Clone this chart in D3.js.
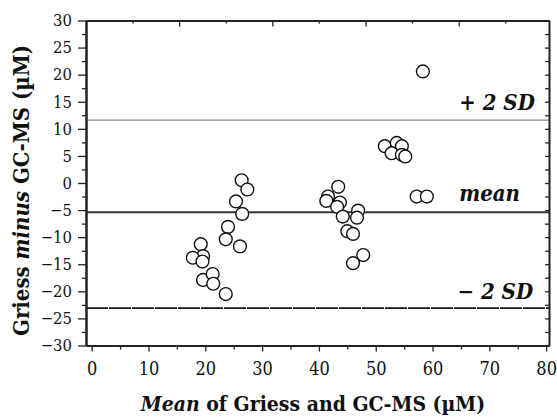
<!DOCTYPE html>
<html>
<head>
<meta charset="utf-8">
<script src="https://cdn.jsdelivr.net/npm/d3@7"></script>
<style>
  html, body { margin: 0; padding: 0; background: #fff; }
  svg { display: block; }
</style>
</head>
<body>
<svg id="chart" width="557" height="417"></svg>
<script>
// ---- data ----
const meanValues = [26.4, 27.4, 25.4, 26.5, 24.0, 23.6, 26.1, 19.2, 19.6, 17.8, 19.5, 19.6, 21.3, 21.4, 23.6,
                    43.4, 41.6, 41.3, 43.7, 43.2, 44.2, 46.9, 46.7, 45.0, 46.0, 47.8, 46.0,
                    51.6, 53.7, 54.6, 52.8, 54.6, 55.2, 57.2, 59.0, 58.3];
const diffValues = [0.5, -1.2, -3.4, -5.7, -8.1, -10.4, -11.7, -11.3, -13.5, -13.8, -14.5, -17.9, -16.8, -18.6, -20.5,
                    -0.7, -2.5, -3.3, -3.6, -4.4, -6.2, -5.1, -6.4, -8.9, -9.4, -13.3, -14.8,
                    6.8, 7.4, 6.8, 5.5, 5.2, 4.9, -2.5, -2.5, 20.6];
const refLineValues = [11.6, -5.4, -23.1];          // +2 SD, mean, -2 SD
const refLineLabels = ["+ 2 SD", "mean", "\u2212 2 SD"];
const xTickValues = [0, 10, 20, 30, 40, 50, 60, 70, 80];
const xMinorTickValues = [5, 15, 25, 35, 45, 55, 65, 75];
const yTickValues = [30, 25, 20, 15, 10, 5, 0, -5, -10, -15, -20, -25, -30];
const yMinorTickValues = [27.5, 22.5, 17.5, 12.5, 7.5, 2.5, -2.5, -7.5, -12.5, -17.5, -22.5, -27.5];
const topMajorTickValues = [15.4, 31.8, 48.2, 64.6];
const topMinorTickValues = [7.2, 23.6, 40.0, 56.4, 72.8];
const xDomain = [-1, 80.5];
const yDomain = [-30, 30];

// ---- layout ----
const W = 557, H = 417;
const margin = { left: 86, top: 20.5, right: 8, bottom: 71.5 };
const FONT = "DejaVu Serif";
const svg = d3.select("#chart");
const x = d3.scaleLinear().domain(xDomain).range([margin.left, W - margin.right]);
const y = d3.scaleLinear().domain(yDomain).range([H - margin.bottom, margin.top]);
const fmt = d => (d < 0 ? "\u2212" + Math.abs(d) : String(d));

// reference lines
const lineStyles = [
  { stroke: "#8a8a8a", width: 1.3, dash: null },
  { stroke: "#333", width: 2, dash: null },
  { stroke: "#1a1a1a", width: 1.8, dash: "22,1" }
];
svg.append("g").selectAll("line").data(refLineValues).join("line")
  .attr("x1", x(xDomain[0])).attr("x2", x(xDomain[1]))
  .attr("y1", d => y(d)).attr("y2", d => y(d))
  .attr("stroke", (d, i) => lineStyles[i].stroke)
  .attr("stroke-width", (d, i) => lineStyles[i].width)
  .attr("stroke-dasharray", (d, i) => lineStyles[i].dash);

// labels for reference lines
const labelPos = [
  { xv: 78.0, dy: -10 },
  { xv: 75.4, dy: -11.5 },
  { xv: 77.7, dy: -9 }
];
svg.append("g").selectAll("text").data(refLineLabels).join("text")
  .attr("x", (d, i) => x(labelPos[i].xv))
  .attr("y", (d, i) => y(refLineValues[i]) + labelPos[i].dy)
  .attr("text-anchor", "end")
  .attr("font-family", FONT).attr("font-stretch", "condensed")
  .attr("font-size", 22).attr("font-weight", "bold").attr("font-style", "italic")
  .attr("fill", "#111")
  .text(d => d);

// points
svg.append("g").selectAll("circle").data(meanValues).join("circle")
  .attr("cx", d => x(d)).attr("cy", (d, i) => y(diffValues[i]))
  .attr("r", 6.4)
  .attr("fill", "#fff").attr("stroke", "#111").attr("stroke-width", 1.4);

// axes
const axStyle = size => g => {
  g.attr("font-family", FONT).attr("font-stretch", "condensed").attr("font-size", size);
  g.select(".domain").attr("stroke", "#222").attr("stroke-width", 2);
  g.selectAll(".tick line").attr("stroke", "#222").attr("stroke-width", 1.3);
  g.selectAll(".tick text").attr("fill", "#111");
};
// left
svg.append("g").attr("transform", `translate(${margin.left},0)`)
  .call(d3.axisLeft(y).tickValues(yMinorTickValues).tickSize(4).tickSizeOuter(0).tickFormat(""))
  .call(axStyle(16.5));
svg.append("g").attr("transform", `translate(${margin.left},0)`)
  .call(d3.axisLeft(y).tickValues(yTickValues).tickSize(8).tickSizeOuter(0).tickPadding(6).tickFormat(fmt))
  .call(axStyle(16.5));
// right (inward)
svg.append("g").attr("transform", `translate(${W - margin.right},0)`)
  .call(d3.axisLeft(y).tickValues(yTickValues.concat(yMinorTickValues)).tickSize(4).tickSizeOuter(0).tickFormat(""))
  .call(axStyle(16.5));
// bottom
svg.append("g").attr("transform", `translate(0,${H - margin.bottom})`)
  .call(d3.axisBottom(x).tickValues(xMinorTickValues).tickSize(4).tickSizeOuter(0).tickFormat(""))
  .call(axStyle(18));
svg.append("g").attr("transform", `translate(0,${H - margin.bottom})`)
  .call(d3.axisBottom(x).tickValues(xTickValues).tickSize(6).tickSizeOuter(0).tickPadding(10.5).tickFormat(fmt))
  .call(axStyle(18));
// top (inward)
svg.append("g").attr("transform", `translate(0,${margin.top})`)
  .call(d3.axisBottom(x).tickValues(topMinorTickValues).tickSize(3).tickSizeOuter(0).tickFormat(""))
  .call(axStyle(16));
svg.append("g").attr("transform", `translate(0,${margin.top})`)
  .call(d3.axisBottom(x).tickValues(topMajorTickValues).tickSize(6).tickSizeOuter(0).tickFormat(""))
  .call(axStyle(16));

// axis titles
const xt = svg.append("text")
  .attr("x", 313).attr("y", 411).attr("text-anchor", "middle")
  .attr("font-family", FONT).attr("font-stretch", "condensed")
  .attr("font-size", 21).attr("font-weight", "bold").attr("fill", "#111");
xt.append("tspan").attr("font-style", "italic").text("Mean");
xt.append("tspan").text(" of Griess and GC-MS (\u00b5M)");

const yt = svg.append("text")
  .attr("transform", "translate(29,190.5) rotate(-90)")
  .attr("text-anchor", "middle")
  .attr("font-family", FONT).attr("font-stretch", "condensed")
  .attr("font-size", 22).attr("font-weight", "bold").attr("fill", "#111");
yt.append("tspan").text("Griess ");
yt.append("tspan").attr("font-style", "italic").text("minus");
yt.append("tspan").text(" GC-MS (\u00b5M)");
</script>
</body>
</html>
